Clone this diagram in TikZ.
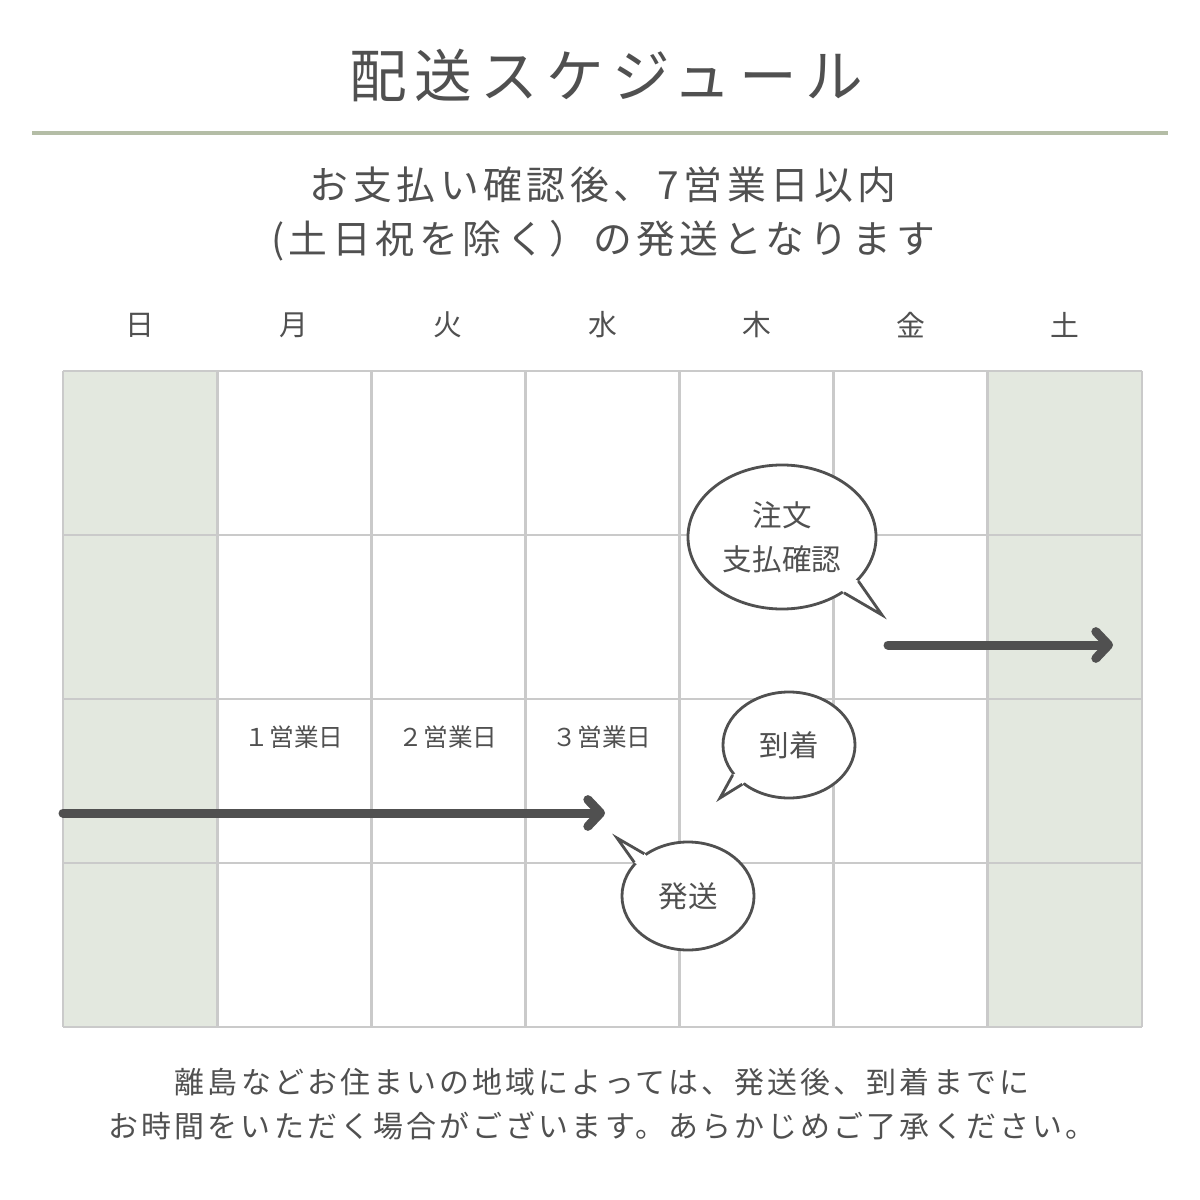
\documentclass[tikz,border=0pt]{standalone}
\usepackage{fontspec}
\setmainfont{Noto Sans CJK JP}
\newfontfamily\titlejp[LetterSpace=14]{Noto Sans CJK JP}
\newfontfamily\subjp[LetterSpace=12]{Noto Sans CJK JP}
\newfontfamily\notejp[LetterSpace=10.5]{Noto Sans CJK JP}
\usetikzlibrary{arrows.meta, positioning, calc, shapes.geometric}
\definecolor{inkgray}{HTML}{505050}
\definecolor{gridgray}{HTML}{CACACA}
\definecolor{weekend}{HTML}{E3E8DF}
\definecolor{rulegreen}{HTML}{B4BDA6}
\tikzset{
  daylbl/.style={text=inkgray, font=\fontsize{20.5}{24}\selectfont},
  bizlbl/.style={text=inkgray, font=\fontsize{17.5}{21}\selectfont},
  bubble/.style={ellipse, draw=inkgray, fill=white, line width=2pt, inner sep=0pt,
                 align=center, text=inkgray, font=\fontsize{21}{31}\selectfont},
  tail/.style={draw=inkgray, line width=2pt, line join=miter},
  bigarr/.style={-{Straight Barb[length=9pt, width=19pt, round]}, line width=6.4pt,
                 draw=inkgray, line cap=round},
  gridline/.style={draw=gridgray, line width=2.1pt},
}

\begin{document}
\begin{tikzpicture}[x=0.025cm, y=-0.025cm]
  \useasboundingbox[fill=white] (0,0) rectangle (1200,1200);

  % heading
  \node[text=inkgray, font=\titlejp\fontsize{41}{48}\selectfont] (title) at (606,75) {配送スケジュール};
  \draw[rulegreen, line width=2.2pt] (32,133) -- (1168,133);
  \node[text=inkgray, align=center, font=\subjp\fontsize{27.6}{38.3}\selectfont] (lead) at (603,214)
    {お支払い確認後、7営業日以内\\(土日祝を除く）の発送となります};

  % calendar
  \fill[weekend] (63,371) rectangle (217,1027);
  \fill[weekend] (988,371) rectangle (1142,1027);
  \foreach \i in {0,...,7}
    \draw[gridline] (63+154.14*\i,371) -- (63+154.14*\i,1027);
  \foreach \j in {0,...,4}
    \draw[gridline] (63,371+164*\j) -- (1142,371+164*\j);
  \foreach \d [count=\i from 0] in {日,月,火,水,木,金,土}
    \node[daylbl] (day\i) at (140+154.14*\i,325) {\d};

  \node[bizlbl] (biz1) at (294,737) {１営業日};
  \node[bizlbl] (biz2) at (448,737) {２営業日};
  \node[bizlbl] (biz3) at (602,737) {３営業日};

  % arrows
  \coordinate (shipStart) at (63,813);
  \coordinate (shipEnd) at (605,813);
  \coordinate (payStart) at (888,645);
  \coordinate (payEnd) at (1113,645);
  \draw[bigarr] (shipStart) -- (shipEnd);
  \draw[bigarr] (payStart) -- (payEnd);

  % bubbles
  \node[bubble, minimum width=4.7cm, minimum height=3.6cm] (order) at (782,537) {注文\\支払確認};
  \coordinate (orderTip) at (882,615);
  \fill[white] (order.-30) -- (orderTip) -- (order.-42)
    -- ($(order.center)!0.9!(order.-42)$) -- ($(order.center)!0.9!(order.-30)$) -- cycle;
  \draw[tail] (order.-30) -- (orderTip) -- (order.-42);

  \node[bubble, minimum width=3.3cm, minimum height=2.65cm] (arrive) at (789,745) {到着};
  \coordinate (arriveTip) at (720,798);
  \fill[white] (arrive.208) -- (arriveTip) -- (arrive.220)
    -- ($(arrive.center)!0.85!(arrive.220)$) -- ($(arrive.center)!0.85!(arrive.208)$) -- cycle;
  \draw[tail] (arrive.208) -- (arriveTip) -- (arrive.220);

  \node[bubble, minimum width=3.3cm, minimum height=2.7cm] (ship) at (688,896) {発送};
  \coordinate (shipTip) at (617,838);
  \fill[white] (ship.148) -- (shipTip) -- (ship.136)
    -- ($(ship.center)!0.85!(ship.136)$) -- ($(ship.center)!0.85!(ship.148)$) -- cycle;
  \draw[tail] (ship.148) -- (shipTip) -- (ship.136);

  % note
  \node[text=inkgray, align=center, font=\notejp\fontsize{21.3}{31.2}\selectfont] (note) at (602,1104)
    {離島などお住まいの地域によっては、発送後、到着までに\\お時間をいただく場合がございます。あらかじめご了承ください。};
\end{tikzpicture}
\end{document}
